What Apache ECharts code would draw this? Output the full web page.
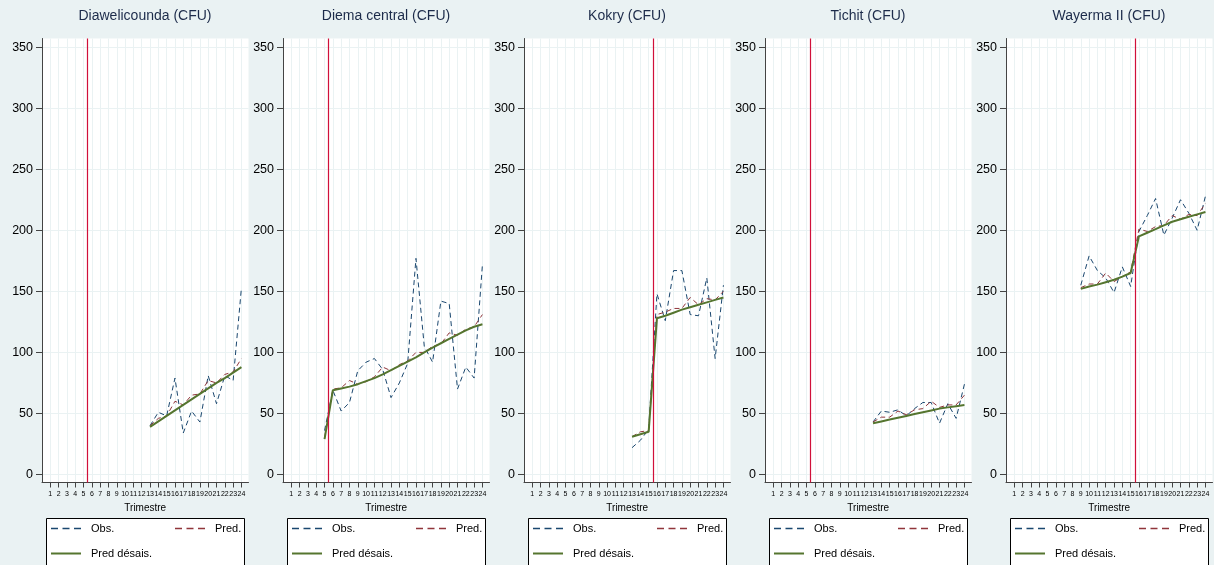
<!DOCTYPE html>
<html>
<head>
<meta charset="utf-8">
<script src="https://cdn.jsdelivr.net/npm/echarts@6/dist/echarts.min.js"></script>
<style>
html,body{margin:0;padding:0;background:#eaf2f3;}
#chart{width:1214px;height:565px;}
</style>
</head>
<body>
<div id="chart"></div>
<script>
// Tick labels
const quarters = [1,2,3,4,5,6,7,8,9,10,11,12,13,14,15,16,17,18,19,20,21,22,23,24];
const yTicks = [0,50,100,150,200,250,300,350];

// Panel titles and intervention positions
const panelTitles = ['Diawelicounda (CFU)','Diema central (CFU)','Kokry (CFU)','Tichit (CFU)','Wayerma II (CFU)'];
const interventionAt = [5.5, 5.5, 15.5, 5.5, 15.5];
const firstQuarter = [13, 5, 13, 13, 9];

// Diawelicounda (quarters 13..24)
const diawObs    = [40, 51, 48, 79, 34, 52, 43, 81, 58, 81, 77, 153];
const diawPred   = [40, 46, 48, 60, 57, 65, 66, 77, 75, 82, 84, 95];
const diawDesais = [39, 43.5, 48, 52.5, 57, 61.5, 66, 70.5, 75, 79, 83.5, 88];

// Diema central (quarters 5..24)
const diemaObs    = [36, 69, 52, 59, 85, 92, 95, 86, 63, 75, 91, 177, 105, 92, 142, 140, 70, 88, 79, 172];
const diemaPred   = [30, 70, 71, 77, 74, 76, 80, 88, 85, 90, 93, 100, 100, 105, 107, 116, 114, 119, 121, 131];
const diemaDesais = [29, 69, 70.5, 72, 74, 76.5, 79, 82, 85.5, 89, 92.5, 96, 100, 104, 107.5, 111, 114.5, 118, 121, 123];

// Kokry (quarters 13..24)
const kokryObs    = [22, 28, 37, 148, 126, 167, 167, 131, 130, 161, 95, 155];
const kokryPred   = [31, 35, 36, 131, 133, 136, 136, 145, 139, 144, 143, 150];
const kokryDesais = [31, 33, 35, 128, 130, 132.5, 135, 137, 139, 141, 143, 145];

// Tichit (quarters 13..24)
const tichitObs    = [43, 52, 51, 53, 48, 54, 59, 59, 42, 58, 46, 74];
const tichitPred   = [43, 47, 47, 52, 49, 53, 54, 60, 55, 57, 57, 65];
const tichitDesais = [42, 43.5, 45, 46.5, 48, 49.5, 51, 52.5, 54, 55, 56, 57];

// Wayerma II (quarters 9..24)
const wayObs    = [155, 179, 167, 161, 149, 170, 154, 199, 212, 226, 196, 210, 225, 214, 200, 228];
const wayPred   = [153, 156, 156, 165, 158, 162, 166, 201, 199, 203, 204, 212, 209, 213, 212, 222];
const wayDesais = [152, 154, 155.5, 157.5, 159.5, 162, 165, 195, 198, 201, 204, 207, 209, 211, 213, 215];

const obsSets = [diawObs, diemaObs, kokryObs, tichitObs, wayObs];
const predSets = [diawPred, diemaPred, kokryPred, tichitPred, wayPred];
const desaisSets = [diawDesais, diemaDesais, kokryDesais, tichitDesais, wayDesais];

const C_OBS = '#1a476f', C_PRED = '#90353b', C_DES = '#55752f', C_RED = '#d0103a';
const FONT = 'Liberation Sans, Arial, sans-serif';
const dashIcon = 'path://M0,0h7v1.5h-7z M11.5,0h7v1.5h-7z M23,0h7v1.5h-7z';
const solidIcon = 'path://M0,0h30v2h-30z';

function toPairs(first, arr) {
  return arr.map((v, k) => [quarters[first - 1 + k], v]);
}

const grids = [], xAxes = [], yAxes = [], series = [], titles = [], legends = [], graphics = [];
for (let i = 0; i < 5; i++) {
  const L = 42 + 241 * i;
  grids.push({left: L, top: 38.5, width: 206.5, height: 444, show: true, backgroundColor: '#ffffff', borderWidth: 0});
  xAxes.push({
    type: 'value', gridIndex: i, min: 0, max: 24.85,
    name: 'Trimestre', nameLocation: 'middle', nameGap: 21,
    nameTextStyle: {fontSize: 10, color: '#000', fontFamily: FONT},
    axisLine: {show: true, onZero: false, lineStyle: {color: '#444', width: 1}},
    axisTick: {show: true, customValues: quarters, length: 5, lineStyle: {color: '#444'}},
    axisLabel: {customValues: quarters, fontSize: 7, margin: 8, color: '#000', fontFamily: FONT},
    splitLine: {show: true, lineStyle: {color: '#eaf2f3', width: 1}}
  });
  yAxes.push({
    type: 'value', gridIndex: i, min: -6.5, max: 357,
    axisLine: {show: true, onZero: false, lineStyle: {color: '#444', width: 1}},
    axisTick: {show: true, customValues: yTicks, length: 6, lineStyle: {color: '#444'}},
    axisLabel: {customValues: yTicks, fontSize: 12.5, margin: 9, color: '#000', fontFamily: FONT},
    splitLine: {show: true, lineStyle: {color: '#eaf2f3', width: 1}}
  });
  titles.push({text: panelTitles[i], left: L + 103, top: 9, textAlign: 'center', padding: 0,
    textStyle: {fontSize: 14, fontWeight: 'normal', color: '#1c2b4a', fontFamily: FONT}});
  series.push({
    name: 'Obs.', type: 'line', xAxisIndex: i, yAxisIndex: i, symbol: 'none',
    data: toPairs(firstQuarter[i], obsSets[i]),
    lineStyle: {color: C_OBS, width: 1, type: [5, 3.5]}, itemStyle: {color: C_OBS},
    markLine: {silent: true, symbol: 'none', label: {show: false}, animation: false,
      lineStyle: {color: C_RED, type: 'solid', width: 1.2}, data: [{xAxis: interventionAt[i]}]}
  });
  series.push({
    name: 'Pred.', type: 'line', xAxisIndex: i, yAxisIndex: i, symbol: 'none',
    data: toPairs(firstQuarter[i], predSets[i]),
    lineStyle: {color: C_PRED, width: 1, type: [5, 3.5]}, itemStyle: {color: C_PRED}
  });
  series.push({
    name: 'Pred désais.', type: 'line', xAxisIndex: i, yAxisIndex: i, symbol: 'none',
    data: toPairs(firstQuarter[i], desaisSets[i]),
    lineStyle: {color: C_DES, width: 2}, itemStyle: {color: C_DES}
  });
  const common = {itemWidth: 30, itemHeight: 14, symbolKeepAspect: true, padding: 0, selectedMode: false,
    textStyle: {fontSize: 11, color: '#000', fontFamily: FONT, padding: [0, 0, 0, 5]}};
  legends.push(Object.assign({left: L + 9, top: 523, data: ['Obs.'], icon: dashIcon}, common));
  legends.push(Object.assign({left: L + 133, top: 523, data: ['Pred.'], icon: dashIcon}, common));
  legends.push(Object.assign({left: L + 9, top: 548, data: ['Pred désais.'], icon: solidIcon}, common));
  graphics.push({type: 'rect', z: 0, shape: {x: L + 4.5, y: 518.5, width: 198, height: 60},
    style: {fill: '#ffffff', stroke: '#000', lineWidth: 1}});
}

const chart = echarts.init(document.getElementById('chart'));
chart.setOption({
  backgroundColor: '#eaf2f3',
  animation: false,
  title: titles,
  grid: grids,
  xAxis: xAxes,
  yAxis: yAxes,
  legend: legends,
  graphic: graphics,
  series: series
});
</script>
</body>
</html>
